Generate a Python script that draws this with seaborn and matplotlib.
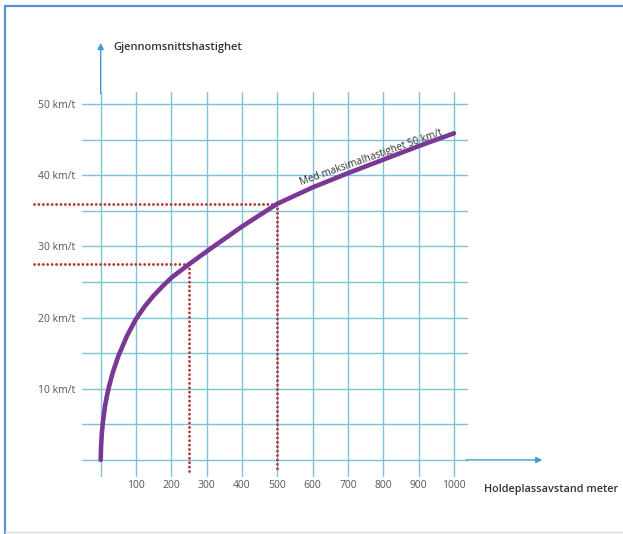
"""
Gjennomsnittshastighet mot holdeplassavstand (maks 50 km/t).
"""
import matplotlib
matplotlib.use("Agg")
import pandas as pd
import seaborn as sns
import matplotlib.pyplot as plt
from matplotlib.lines import Line2D

# Verdier lest av figuren
avstand = [0, 1, 3, 6, 12, 18, 25, 35, 50, 75, 100, 125, 150, 175, 200, 250,
           300, 400, 500, 600, 700, 800, 900, 1000]
hastighet = [0, 1.8, 3.6, 5.2, 7.5, 9.1, 10.6, 12.4, 14.6, 17.5, 19.8, 21.6,
             23.1, 24.4, 25.6, 27.5, 29.3, 32.8, 36, 38.3, 40.3, 42.2, 44.1, 45.9]

# Avlesninger (stiplede linjer)
les_avstand = [250, 500]
les_hastighet = [27.5, 36]

x_ticks = [0, 100, 200, 300, 400, 500, 600, 700, 800, 900, 1000]
x_labels = ["", "100", "200", "300", "400", "500", "600", "700", "800", "900", "1000"]
y_ticks = [0, 5, 10, 15, 20, 25, 30, 35, 40, 45, 50]
y_labels = ["", "", "10 km/t", "", "20 km/t", "", "30 km/t", "", "40 km/t", "", "50 km/t"]

kurve_tekst = "Med maksimalhastighet 50 km/t"
y_tittel = "Gjennomsnittshastighet"
x_tittel = "Holdeplassavstand meter"

GRID = "#7cc3d6"
AKSE = "#3a9fd4"
LILLA = "#7a3895"
ROD = "#b8393a"


def main():
    sns.set_style("white")
    plt.rcParams["font.family"] = ["Open Sans", "DejaVu Sans"]

    df = pd.DataFrame({"avstand": avstand, "hastighet": hastighet})

    fig = plt.figure(figsize=(6.23, 5.34), dpi=100)
    ax = fig.add_axes([0.131, 0.1067, 0.6204, 0.721])

    ax.set_xlim(-54, 1040)
    ax.set_ylim(-2.4, 51.7)
    ax.set_xticks(x_ticks)
    ax.set_xticklabels(x_labels)
    ax.set_yticks(y_ticks)
    ax.set_yticklabels(y_labels)
    ax.tick_params(length=0, labelsize=7.5, labelcolor="#555555")
    ax.tick_params(axis="x", pad=2.5)
    ax.tick_params(axis="y", pad=4.5)
    ax.grid(True, color=GRID, lw=1.0)
    sns.despine(ax=ax, left=True, bottom=True)

    # akser med piler
    ax.annotate("", xy=(1250, 0), xytext=(1035, 0), annotation_clip=False,
                arrowprops=dict(arrowstyle="-|>", color=AKSE, lw=1.0,
                                mutation_scale=9, shrinkA=0, shrinkB=0))
    ax.annotate("", xy=(0, 58.6), xytext=(0, 51.5), annotation_clip=False,
                arrowprops=dict(arrowstyle="-|>", color=AKSE, lw=1.0,
                                mutation_scale=9, shrinkA=0, shrinkB=0))

    # stiplede avlesningslinjer
    for xa, ya in zip(les_avstand, les_hastighet):
        ax.plot([-190, xa], [ya, ya], color=ROD, lw=2.1,
                linestyle=(0, (0.01, 1.5)), dash_capstyle="round", clip_on=False, zorder=4)
        ax.plot([xa, xa], [ya, -1.6], color=ROD, lw=2.1,
                linestyle=(0, (0.01, 1.5)), dash_capstyle="round", clip_on=False, zorder=4)

    sns.lineplot(data=df, x="avstand", y="hastighet", color=LILLA, lw=3.3,
                 sort=False, estimator=None, ax=ax, zorder=5)
    ax.set_xlabel("")
    ax.set_ylabel("")

    ax.text(765, 42.5, kurve_tekst, rotation=19.5, rotation_mode="anchor",
            ha="center", va="center", fontsize=7.2, color="#333333")
    ax.text(35, 58, y_tittel, ha="left", va="center", fontsize=8,
            fontweight="semibold", color="#333333")
    ax.text(1085, -4.2, x_tittel, ha="left", va="center", fontsize=7.8,
            fontweight="semibold", color="#333333")

    # ramme
    fig.add_artist(Line2D([5 / 623, 5 / 623], [0, 1 - 6 / 534], color="#5b8fd6", lw=1.6))
    fig.add_artist(Line2D([5 / 623, 1], [1 - 6 / 534, 1 - 6 / 534], color="#5b8fd6", lw=1.6))
    fig.add_artist(Line2D([5 / 623, 1], [2 / 534, 2 / 534], color="#dddddd", lw=1.0))

    fig.savefig("out.png", dpi=100, facecolor="white")


if __name__ == "__main__":
    main()
